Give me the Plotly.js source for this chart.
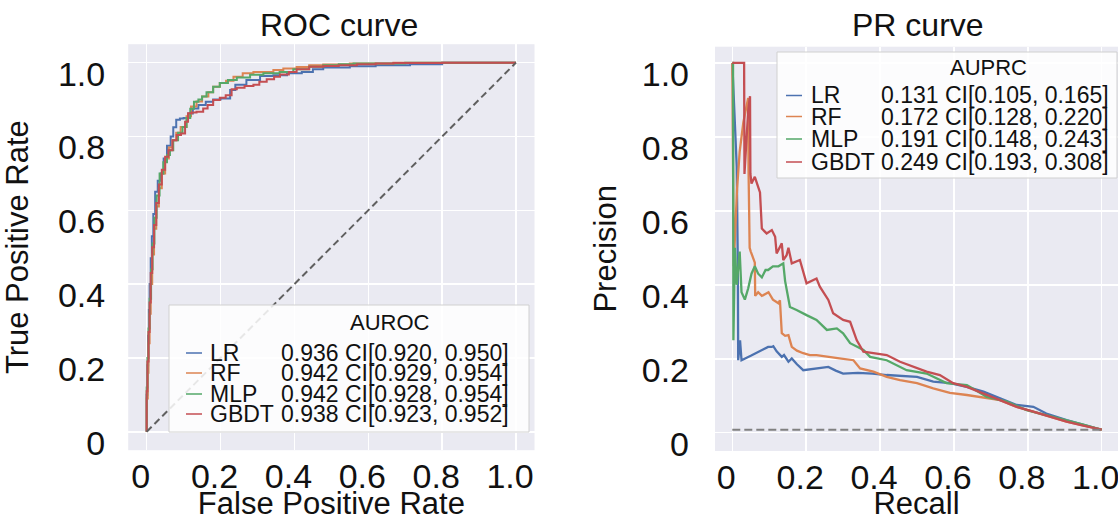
<!DOCTYPE html>
<html>
<head>
<meta charset="utf-8">
<script src="https://cdn.plot.ly/plotly-3.0.1.min.js"></script>
<style>html,body{margin:0;padding:0;background:#fff;}#chart{width:1118px;height:521px;}</style>
</head>
<body>
<div id="chart"></div>
<script>
// ---------------- DATA ----------------
const models = ["LR", "RF", "MLP", "GBDT"];
const colors = ["#4C72B0", "#DD8452", "#55A868", "#C44E52"];

const aurocValue = [0.936, 0.942, 0.942, 0.938];
const aurocLow   = [0.920, 0.929, 0.928, 0.923];
const aurocHigh  = [0.950, 0.954, 0.954, 0.952];

const auprcValue = [0.131, 0.172, 0.191, 0.249];
const auprcLow   = [0.105, 0.128, 0.148, 0.193];
const auprcHigh  = [0.165, 0.220, 0.243, 0.308];

const tickVals = [0, 0.2, 0.4, 0.6, 0.8, 1.0];
const tickText = ["0", "0.2", "0.4", "0.6", "0.8", "1.0"];

// ROC curves (false positive rate, true positive rate)
const fprLR = [0, 0, 0.002, 0.004, 0.006, 0.008, 0.011, 0.014, 0.018, 0.023, 0.03, 0.038, 0.046, 0.055, 0.065, 0.072, 0.08, 0.09, 0.1, 0.113, 0.125, 0.14, 0.16, 0.18, 0.2, 0.226, 0.24, 0.27, 0.307, 0.343, 0.38, 0.42, 0.45, 0.478, 0.55, 0.62, 0.713, 0.8, 0.875, 1.0];
const tprLR = [0, 0.04, 0.1, 0.18, 0.26, 0.33, 0.40, 0.47, 0.53, 0.59, 0.65, 0.68, 0.70, 0.74, 0.775, 0.80, 0.825, 0.845, 0.849, 0.85, 0.862, 0.876, 0.885, 0.894, 0.9, 0.903, 0.926, 0.94, 0.953, 0.964, 0.966, 0.971, 0.975, 0.982, 0.987, 0.99, 0.993, 0.996, 1.0, 1.0];

const fprRF = [0, 0, 0.003, 0.005, 0.008, 0.011, 0.015, 0.02, 0.026, 0.033, 0.041, 0.05, 0.06, 0.07, 0.08, 0.092, 0.108, 0.12, 0.135, 0.15, 0.167, 0.18, 0.198, 0.215, 0.235, 0.26, 0.289, 0.343, 0.37, 0.406, 0.44, 0.478, 0.55, 0.668, 0.75, 1.0];
const tprRF = [0, 0.03, 0.09, 0.16, 0.24, 0.32, 0.40, 0.48, 0.55, 0.61, 0.66, 0.70, 0.74, 0.77, 0.79, 0.81, 0.826, 0.855, 0.881, 0.895, 0.908, 0.92, 0.935, 0.945, 0.951, 0.962, 0.971, 0.975, 0.98, 0.984, 0.988, 0.993, 0.995, 0.998, 1.0, 1.0];

const fprMLP = [0, 0, 0.002, 0.005, 0.008, 0.012, 0.016, 0.021, 0.027, 0.035, 0.045, 0.055, 0.063, 0.072, 0.085, 0.097, 0.108, 0.118, 0.128, 0.14, 0.15, 0.162, 0.18, 0.198, 0.22, 0.244, 0.28, 0.316, 0.36, 0.397, 0.44, 0.478, 0.52, 0.56, 0.7, 0.85, 1.0];
const tprMLP = [0, 0.05, 0.12, 0.2, 0.28, 0.36, 0.44, 0.51, 0.58, 0.64, 0.70, 0.73, 0.75, 0.763, 0.79, 0.81, 0.826, 0.85, 0.875, 0.894, 0.9, 0.908, 0.92, 0.935, 0.945, 0.953, 0.96, 0.967, 0.971, 0.975, 0.982, 0.989, 0.993, 0.996, 0.998, 1.0, 1.0];

const fprGBDT = [0, 0, 0.002, 0.005, 0.008, 0.011, 0.015, 0.02, 0.026, 0.033, 0.041, 0.05, 0.059, 0.07, 0.081, 0.093, 0.104, 0.112, 0.122, 0.135, 0.153, 0.165, 0.18, 0.198, 0.214, 0.23, 0.244, 0.265, 0.289, 0.305, 0.325, 0.345, 0.361, 0.385, 0.406, 0.44, 0.478, 0.52, 0.569, 0.62, 0.668, 0.8, 1.0];
const tprGBDT = [0, 0.04, 0.11, 0.19, 0.27, 0.35, 0.43, 0.5, 0.56, 0.62, 0.67, 0.71, 0.745, 0.763, 0.79, 0.804, 0.808, 0.84, 0.863, 0.865, 0.867, 0.876, 0.885, 0.899, 0.905, 0.912, 0.928, 0.932, 0.937, 0.94, 0.948, 0.955, 0.962, 0.968, 0.975, 0.982, 0.989, 0.991, 0.993, 0.996, 0.998, 0.999, 1.0];

// PR curves (recall, precision)
const recLR  = [0, 0.012, 0.015, 0.016, 0.021, 0.025, 0.05, 0.075, 0.097, 0.107, 0.111, 0.12, 0.134, 0.14, 0.152, 0.161, 0.175, 0.192, 0.22, 0.26, 0.28, 0.30, 0.34, 0.38, 0.418, 0.46, 0.50, 0.544, 0.589, 0.635, 0.68, 0.725, 0.77, 0.815, 0.85, 0.905, 0.95, 1.0];
const precLR = [1.0, 0.72, 0.45, 0.196, 0.25, 0.196, 0.208, 0.22, 0.232, 0.232, 0.234, 0.22, 0.205, 0.21, 0.192, 0.201, 0.185, 0.169, 0.172, 0.178, 0.168, 0.16, 0.162, 0.16, 0.156, 0.154, 0.151, 0.138, 0.134, 0.124, 0.111, 0.093, 0.075, 0.07, 0.052, 0.034, 0.021, 0.008];

const recRF  = [0, 0.004, 0.008, 0.013, 0.02, 0.03, 0.038, 0.043, 0.044, 0.046, 0.047, 0.05, 0.061, 0.062, 0.07, 0.08, 0.098, 0.11, 0.125, 0.129, 0.134, 0.143, 0.152, 0.161, 0.175, 0.192, 0.21, 0.228, 0.256, 0.29, 0.328, 0.346, 0.382, 0.418, 0.454, 0.50, 0.544, 0.589, 0.635, 0.68, 0.725, 0.77, 0.815, 0.86, 0.905, 0.95, 1.0];
const precRF = [1.0, 0.45, 0.55, 0.66, 0.76, 0.84, 0.88, 0.905, 0.71, 0.60, 0.50, 0.49, 0.46, 0.37, 0.38, 0.37, 0.38, 0.36, 0.35, 0.358, 0.269, 0.262, 0.264, 0.232, 0.222, 0.215, 0.21, 0.21, 0.205, 0.201, 0.196, 0.174, 0.165, 0.151, 0.142, 0.134, 0.12, 0.108, 0.102, 0.096, 0.088, 0.07, 0.057, 0.043, 0.03, 0.02, 0.008];

const recMLP  = [0, 0.002, 0.003, 0.007, 0.012, 0.02, 0.025, 0.034, 0.043, 0.052, 0.061, 0.07, 0.08, 0.09, 0.097, 0.11, 0.125, 0.138, 0.143, 0.15, 0.156, 0.174, 0.19, 0.201, 0.228, 0.256, 0.283, 0.30, 0.319, 0.355, 0.373, 0.418, 0.472, 0.526, 0.58, 0.635, 0.689, 0.743, 0.797, 0.85, 0.905, 0.95, 1.0];
const precMLP = [1.0, 1.0, 0.25, 0.50, 0.40, 0.49, 0.38, 0.36, 0.39, 0.43, 0.45, 0.43, 0.42, 0.44, 0.44, 0.45, 0.45, 0.458, 0.41, 0.37, 0.34, 0.332, 0.325, 0.318, 0.305, 0.278, 0.282, 0.269, 0.242, 0.224, 0.205, 0.196, 0.169, 0.16, 0.134, 0.129, 0.097, 0.084, 0.061, 0.048, 0.034, 0.022, 0.008];

const recGBDT  = [0, 0.032, 0.033, 0.038, 0.043, 0.048, 0.049, 0.052, 0.061, 0.07, 0.075, 0.08, 0.093, 0.107, 0.116, 0.12, 0.134, 0.138, 0.147, 0.152, 0.161, 0.183, 0.201, 0.228, 0.237, 0.26, 0.273, 0.30, 0.319, 0.337, 0.355, 0.382, 0.418, 0.454, 0.49, 0.526, 0.562, 0.598, 0.635, 0.68, 0.725, 0.77, 0.815, 0.86, 0.905, 0.95, 1.0];
const precGBDT = [1.0, 1.0, 0.70, 0.80, 0.87, 0.91, 0.70, 0.674, 0.692, 0.665, 0.65, 0.552, 0.539, 0.548, 0.53, 0.485, 0.512, 0.467, 0.48, 0.50, 0.458, 0.467, 0.404, 0.417, 0.395, 0.359, 0.323, 0.305, 0.30, 0.25, 0.219, 0.215, 0.21, 0.192, 0.178, 0.165, 0.156, 0.134, 0.124, 0.106, 0.088, 0.07, 0.057, 0.043, 0.03, 0.019, 0.008];

const chanceDiag = [0, 1];
const prBaselineRecall = [0, 1];
const prBaselinePrecision = [0.008, 0.008];

const rocX = [fprLR, fprRF, fprMLP, fprGBDT];
const rocY = [tprLR, tprRF, tprMLP, tprGBDT];
const prX = [recLR, recRF, recMLP, recGBDT];
const prY = [precLR, precRF, precMLP, precGBDT];

// ---------------- LAYOUT HELPERS ----------------
const W = 1118, H = 521;
const FONT = "Liberation Sans, Arial, Helvetica, sans-serif";
const px = p => p / W;
const py = p => 1 - p / H;

const traces = [];
models.forEach((m, i) => {
  traces.push({x: rocX[i], y: rocY[i], xaxis: "x", yaxis: "y", type: "scatter", mode: "lines",
    name: m, showlegend: false, line: {color: colors[i], width: 2, shape: "vh"}, hoverinfo: "skip"});
});
traces.push({x: chanceDiag, y: chanceDiag, xaxis: "x", yaxis: "y", type: "scatter", mode: "lines",
  showlegend: false, line: {color: "#606060", width: 2, dash: "7px,4px"}, hoverinfo: "skip"});
models.forEach((m, i) => {
  traces.push({x: prX[i], y: prY[i], xaxis: "x2", yaxis: "y2", type: "scatter", mode: "lines",
    name: m, showlegend: false, line: {color: colors[i], width: 2.3}, hoverinfo: "skip"});
});
traces.push({x: prBaselineRecall, y: prBaselinePrecision, xaxis: "x2", yaxis: "y2", type: "scatter", mode: "lines",
  showlegend: false, line: {color: "#808080", width: 2, dash: "8px,4px"}, hoverinfo: "skip"});

const tickFont = {family: FONT, size: 34, color: "#111"};
const titleFont = {family: FONT, size: 31, color: "#111"};

function axisX(domain, range, title, standoff) {
  return {domain, range, tickvals: tickVals, ticktext: tickText, tickfont: tickFont,
    showgrid: true, gridcolor: "#ffffff", gridwidth: 1.5, zeroline: false, showline: false, ticks: "",
    ticklabelstandoff: 3, ticklabelshift: -6, ticklabeloverflow: "allow",
    title: {text: title, font: titleFont, standoff: standoff}, automargin: false, fixedrange: true};
}
function axisY(domain, range, title, standoff, labelStandoff) {
  return {domain, range, tickvals: tickVals, ticktext: tickText, tickfont: tickFont,
    showgrid: true, gridcolor: "#ffffff", gridwidth: 1.5, zeroline: false, showline: false, ticks: "",
    ticklabelstandoff: labelStandoff, ticklabelshift: 11, ticklabeloverflow: "allow",
    title: {text: title, font: titleFont, standoff: standoff}, automargin: false, fixedrange: true};
}

// legends (drawn as shapes + annotations)
const shapes = [];
const annotations = [];
function legend(box, titleText, titleX, titleY, rowsY, lineX0, lineX1, labelX, valueX, values, lows, highs) {
  shapes.push({type: "rect", xref: "paper", yref: "paper", x0: px(box[0]), x1: px(box[1]), y0: py(box[3]), y1: py(box[2]),
    fillcolor: "rgba(255,255,255,0.85)", line: {color: "#d0d0d0", width: 1}, layer: "above"});
  annotations.push({xref: "paper", yref: "paper", x: px(titleX), y: py(titleY), xanchor: "center", yanchor: "middle",
    text: titleText, showarrow: false, font: {family: FONT, size: 22, color: "#111"}});
  models.forEach((m, i) => {
    shapes.push({type: "line", xref: "paper", yref: "paper", x0: px(lineX0), x1: px(lineX1), y0: py(rowsY[i]), y1: py(rowsY[i]),
      line: {color: colors[i], width: 1.5}, layer: "above"});
    annotations.push({xref: "paper", yref: "paper", x: px(labelX), y: py(rowsY[i]), xanchor: "left", yanchor: "middle",
      text: m, showarrow: false, font: {family: FONT, size: 23, color: "#111"}});
    annotations.push({xref: "paper", yref: "paper", x: px(valueX), y: py(rowsY[i]), xanchor: "left", yanchor: "middle",
      text: values[i].toFixed(3) + " CI[" + lows[i].toFixed(3) + ", " + highs[i].toFixed(3) + "]",
      showarrow: false, font: {family: FONT, size: 23, color: "#111"}});
  });
}
legend([169, 529, 305, 432], "AUROC", 390, 322, [353, 373, 394, 414], 186, 202, 208, 279, aurocValue, aurocLow, aurocHigh);
legend([777, 1117, 52, 178], "AUPRC", 988, 68, [95.5, 116.5, 139, 162], 786, 802, 809, 879, auprcValue, auprcLow, auprcHigh);

// subplot titles
annotations.push({xref: "paper", yref: "paper", x: px(339), y: py(25), xanchor: "center", yanchor: "middle",
  text: "ROC curve", showarrow: false, font: {family: FONT, size: 32, color: "#111"}});
annotations.push({xref: "paper", yref: "paper", x: px(918), y: py(25), xanchor: "center", yanchor: "middle",
  text: "PR curve", showarrow: false, font: {family: FONT, size: 32, color: "#111"}});

const layout = {
  width: W, height: H,
  margin: {l: 0, r: 0, t: 0, b: 0},
  paper_bgcolor: "#ffffff",
  plot_bgcolor: "#EAEAF2",
  showlegend: false,
  xaxis: axisX([128.2 / W, 534.5 / W], [-0.05, 1.05], "False Positive Rate", 12),
  yaxis: axisY([1 - 450.2 / H, 1 - 44.2 / H], [-0.05, 1.05], "True Positive Rate", 20, 22),
  xaxis2: axisX([715 / W, 1], [-0.0468, 1.0441], "Recall", 12),
  yaxis2: axisY([1 - 451 / H, 1 - 46.7 / H], [-0.0495, 1.044], "Precision", 15, 25),
  shapes, annotations
};
layout.xaxis.anchor = "y"; layout.yaxis.anchor = "x";
layout.xaxis2.anchor = "y2"; layout.yaxis2.anchor = "x2";

Plotly.newPlot("chart", traces, layout, {displayModeBar: false, staticPlot: true});
</script>
</body>
</html>
